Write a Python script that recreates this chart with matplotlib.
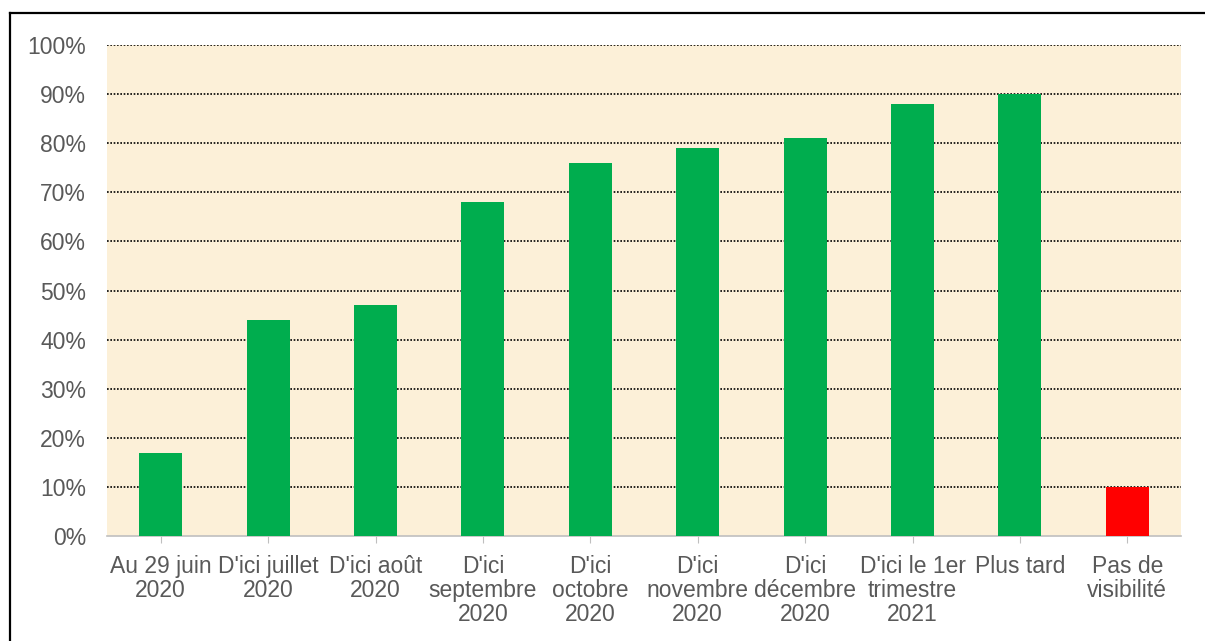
import matplotlib
matplotlib.use("Agg")
import matplotlib.pyplot as plt
from matplotlib.lines import Line2D

categories = ["Au 29 juin\n2020", "D'ici juillet\n2020", "D'ici août\n2020",
              "D'ici\nseptembre\n2020", "D'ici\noctobre\n2020", "D'ici\nnovembre\n2020",
              "D'ici\ndécembre\n2020", "D'ici le 1er\ntrimestre\n2021", "Plus tard",
              "Pas de\nvisibilité"]
values = [0.17, 0.44, 0.47, 0.68, 0.76, 0.79, 0.81, 0.88, 0.90, 0.10]
colors = ["#00AD4E"] * 9 + ["#FF0000"]
yticks = [0, 0.1, 0.2, 0.3, 0.4, 0.5, 0.6, 0.7, 0.8, 0.9, 1.0]
ytick_labels = ["0%", "10%", "20%", "30%", "40%", "50%", "60%", "70%", "80%", "90%", "100%"]

plt.rcParams['font.family'] = ['Liberation Sans', 'DejaVu Sans']

W, H = 1205, 641
fig = plt.figure(figsize=(W / 100, H / 100), dpi=100)
fig.patch.set_facecolor("white")

left, right, top, bottom = 107, 1181, 45, 536
ax = fig.add_axes([left / W, 1 - bottom / H, (right - left) / W, (bottom - top) / H])
ax.set_facecolor("#FCF0D8")

x = list(range(len(categories)))
ax.bar(x, values, width=0.4, color=colors, zorder=3)

ax.set_xlim(-0.5, len(categories) - 0.5)
ax.set_ylim(0, 1)
ax.set_yticks(yticks)
ax.set_yticklabels(ytick_labels)
ax.set_xticks(x)
ax.set_xticklabels(categories, linespacing=1.05)

for s in ["left", "right", "top"]:
    ax.spines[s].set_visible(False)
ax.spines["bottom"].set_color("#BFBFBF")
ax.spines["bottom"].set_linestyle((0, (1, 1)))
ax.spines["bottom"].set_linewidth(1.2)

ax.tick_params(axis="y", length=0, pad=15, labelsize=16.5, labelcolor="#595959")
ax.tick_params(axis="x", length=5, color="#BFBFBF", pad=9, labelsize=16.5, labelcolor="#595959")

for yv in yticks[1:]:
    ax.axhline(yv, color="black", linestyle=(0, (1, 1)), linewidth=1.2, zorder=2)

# outer border (left and top visible)
fig.add_artist(Line2D([10 / W, 10 / W], [0, 1 - 13 / H], transform=fig.transFigure, color="black", linewidth=1.6))
fig.add_artist(Line2D([10 / W, 1], [1 - 13 / H, 1 - 13 / H], transform=fig.transFigure, color="black", linewidth=1.6))

fig.savefig("out.png", dpi=100)
